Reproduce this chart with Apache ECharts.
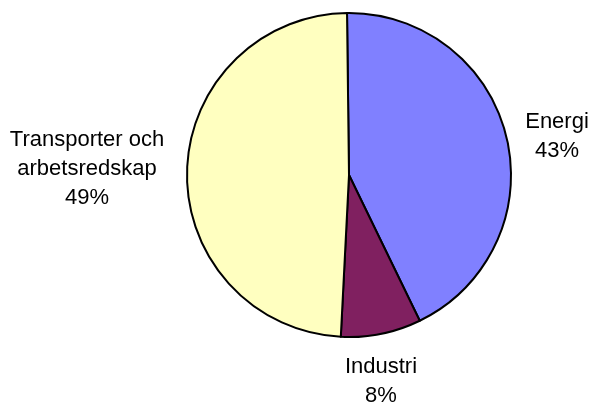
<!DOCTYPE html>
<html>
<head>
<meta charset="utf-8">
<script src="https://cdn.jsdelivr.net/npm/echarts@6/dist/echarts.min.js"></script>
<style>
  html, body { margin: 0; padding: 0; background: #fff; }
  #main { width: 593px; height: 405px; }
</style>
</head>
<body>
<div id="main"></div>
<script>
var categories = ['Energi', 'Industri', 'Transporter och\narbetsredskap']
var values = [43, 8, 49]
var colors = ['#8080FF', '#802060', '#FFFFC0']

// label centres, picked by eye
var labelSpots = [[557, 136], [381, 381], [87, 169]]

var chart = echarts.init(document.getElementById('main'))
chart.setOption({
  animation: false,
  series: [
    {
      type: 'pie',
      center: [349, 175],
      radius: 162,
      startAngle: 90.7,
      clockwise: true,
      data: categories.map(function (c, i) {
        return { name: c, value: values[i], itemStyle: { color: colors[i] } }
      }),
      itemStyle: { borderColor: '#000', borderWidth: 2 },
      label: {
        show: true,
        position: 'outside',
        formatter: '{b}\n{d}%',
        fontFamily: 'Liberation Sans, Arial, sans-serif',
        fontSize: 22,
        lineHeight: 29,
        color: '#000',
        align: 'center',
        overflow: 'none'
      },
      labelLine: { show: false },
      labelLayout: function (p) {
        var s = labelSpots[p.dataIndex]
        return { x: s[0], y: s[1], align: 'center', verticalAlign: 'middle' }
      },
      emphasis: { disabled: true }
    }
  ]
})
</script>
</body>
</html>
